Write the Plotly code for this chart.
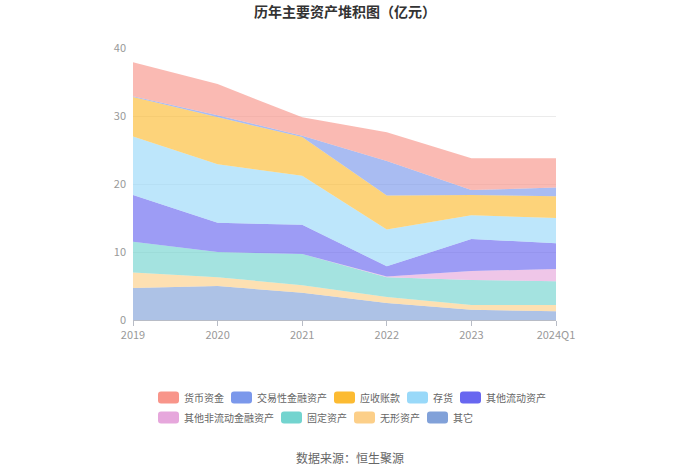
import plotly.graph_objects as go

years = ["2019", "2020", "2021", "2022", "2023", "2024Q1"]

# series values (亿元), bottom to top of the stack
qita = [4.7, 5.0, 4.0, 2.5, 1.5, 1.3]          # 其它
wuxing = [2.3, 1.3, 1.1, 0.9, 0.7, 0.9]        # 无形资产
guding = [4.5, 3.7, 4.6, 2.9, 3.7, 3.5]        # 固定资产
qtfldjr = [0.0, 0.0, 0.0, 0.1, 1.3, 1.8]       # 其他非流动金融资产
qtld = [6.9, 4.3, 4.3, 1.5, 4.7, 3.8]          # 其他流动资产
cunhuo = [8.6, 8.6, 7.2, 5.4, 3.5, 3.7]        # 存货
yingshou = [5.8, 7.0, 5.7, 5.0, 3.0, 3.2]      # 应收账款
jiaoyi = [0.1, 0.2, 0.2, 5.1, 0.7, 1.3]        # 交易性金融资产
huobi = [5.0, 4.6, 2.7, 4.2, 4.7, 4.3]         # 货币资金

names = ["其它", "无形资产", "固定资产", "其他非流动金融资产", "其他流动资产",
         "存货", "应收账款", "交易性金融资产", "货币资金"]
values = [qita, wuxing, guding, qtfldjr, qtld, cunhuo, yingshou, jiaoyi, huobi]
colors = ["#81a1d9", "#fccf89", "#73d4cf", "#e6a7dc", "#6867f0",
          "#99d9f9", "#fcbb32", "#7b98eb", "#f8958a"]

W, H = 700, 474
L, R, T, B = 133, 556, 48, 320  # plot area in pixels


def rgba(h, a):
    h = h.lstrip("#")
    return "rgba(%d,%d,%d,%.2f)" % (int(h[0:2], 16), int(h[2:4], 16), int(h[4:6], 16), a)


def px_x(px):
    return (px - L) / (R - L)


def px_y(py):
    return (B - py) / (B - T)


fig = go.Figure()
for name, vals, col in zip(names, values, colors):
    fig.add_trace(go.Scatter(
        x=years, y=vals, name=name, mode="lines", stackgroup="one",
        line=dict(width=0, color=col), fillcolor=rgba(col, 0.65),
        showlegend=False, hoverinfo="x+y+name",
    ))

FONT = "Noto Sans CJK SC"

# custom legend laid out like the reference (two rows)
legend_rows = [
    ["货币资金", "交易性金融资产", "应收账款", "存货", "其他流动资产"],
    ["其他非流动金融资产", "固定资产", "无形资产", "其它"],
]
row_y = [397.5, 417.5]
shapes, annotations = [], []
SW, SH, RAD, CHAR, GAP = 21, 12, 3, 10, 8
for row, cy in zip(legend_rows, row_y):
    x0 = 158
    for nm in row:
        col = colors[names.index(nm)]
        a, b = x0, x0 + SW
        t, btm = cy - SH / 2, cy + SH / 2
        path = ("M {0},{1} L {2},{1} Q {3},{1} {3},{4} L {3},{5} Q {3},{6} {2},{6} "
                "L {0},{6} Q {7},{6} {7},{5} L {7},{4} Q {7},{1} {0},{1} Z").format(
            px_x(a + RAD), px_y(t), px_x(b - RAD), px_x(b), px_y(t + RAD),
            px_y(btm - RAD), px_y(btm), px_x(a))
        shapes.append(dict(type="path", path=path, xref="paper", yref="paper",
                           fillcolor=col, line=dict(width=0), layer="above"))
        annotations.append(dict(text=nm, x=px_x(x0 + SW + 3), y=px_y(cy),
                                xref="paper", yref="paper", xanchor="left",
                                yanchor="middle", showarrow=False,
                                font=dict(size=10, color="#666", family=FONT)))
        x0 += SW + 4 + CHAR * len(nm) + GAP

annotations.append(dict(text="数据来源：恒生聚源", xref="paper", yref="paper",
                        x=px_x(350), y=px_y(457), showarrow=False,
                        font=dict(size=12, color="#666", family=FONT),
                        xanchor="center", yanchor="middle"))

fig.update_layout(
    width=W, height=H,
    margin=dict(l=L, r=W - R, t=T, b=H - B, autoexpand=False),
    paper_bgcolor="white", plot_bgcolor="white",
    font=dict(family=FONT, size=12, color="#666"),
    title=dict(text="<b>历年主要资产堆积图（亿元）</b>", x=345 / W, xref="container",
               xanchor="center", y=1 - 12 / H, yref="container", yanchor="middle",
               font=dict(size=14, color="#333", family=FONT)),
    xaxis=dict(type="category", range=[0, 5], showgrid=False, showline=True,
               linecolor="#b8bcc6", ticks="outside", ticklen=5, tickcolor="#b8bcc6",
               tickfont=dict(size=11, color="#999"), zeroline=False),
    yaxis=dict(range=[0, 40], dtick=10, showgrid=True, gridcolor="#ebebeb",
               showline=False, zeroline=False, tickfont=dict(size=11, color="#999"),
               ticks="", ticklabelstandoff=6),
    shapes=shapes,
    annotations=annotations,
    showlegend=False,
)

fig.write_html("out.html",
               config={"displayModeBar": False},
               post_script="document.body.style.margin='0';document.body.style.padding='0';")
